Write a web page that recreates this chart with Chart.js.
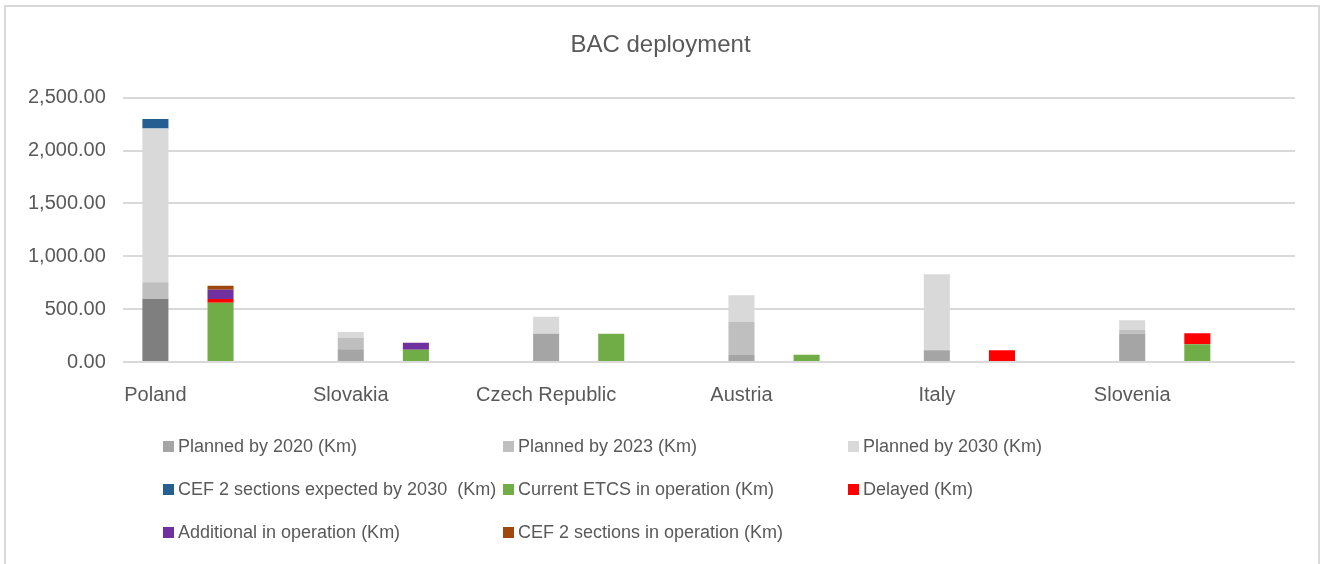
<!DOCTYPE html>
<html>
<head>
<meta charset="utf-8">
<script src="https://cdn.jsdelivr.net/npm/chart.js@4.4.1/dist/chart.umd.min.js"></script>
<style>
  html, body { margin: 0; padding: 0; background: #fff; }
  #wrap { position: relative; width: 1326px; height: 564px; overflow: hidden; }
  #frame { position: absolute; left: 4px; top: 5px; width: 1316px; height: 570px;
           border: 2px solid #d9d9d9; box-sizing: border-box; }
  #chart_box { position: absolute; left: 0; top: 0; width: 1326px; height: 432px; }
  #legend { position: absolute; left: 0; top: 0; width: 1326px; height: 564px;
            font-family: "Liberation Sans", Arial, sans-serif; font-size: 18px; color: #595959; }
  .item { position: absolute; display: flex; align-items: center; white-space: pre; height: 22px; }
  .box { width: 11px; height: 11px; margin-right: 4px; flex: none; }
</style>
</head>
<body>
<div id="wrap">
  <div id="frame"></div>
  <div id="chart_box"><canvas id="chart_bac"></canvas></div>
  <div id="legend"></div>
</div>
<script>
const countries = ['Poland', 'Slovakia', 'Czech Republic', 'Austria', 'Italy', 'Slovenia'];

// planned stack (left bar of each country)
const planned2020 = [595, 120, 268, 66, 111, 268];
const planned2023 = [160, 110, 0, 316, 0, 38];
const planned2030 = [1455, 54, 161, 250, 720, 89];
const cef2Expected = [90, 0, 0, 0, 0, 0];

// operation stack (right bar of each country)
const currentEtcs = [560, 117, 268, 69, 0, 168];
const delayed = [35, 0, 0, 0, 111, 104];
const additional = [88, 66, 0, 0, 0, 0];
const cef2InOperation = [38, 0, 0, 0, 0, 0];

const yTicks = [0, 500, 1000, 1500, 2000, 2500];

// each country takes three slots: planned bar, operation bar, empty gap
let labels = [];
countries.forEach(c => { labels.push(c, '', ''); });

function toSlots(values, offset){
  let out = [];
  values.forEach(v => {
    let slot = [null, null, null];
    slot[offset] = v > 0 ? v : null;
    out.push(...slot);
  });
  return out;
}

// Poland's 2020 segment is drawn darker in the original
let planned2020Colors = labels.map((l, i) => i == 0 ? '#7f7f7f' : '#a5a5a5');

const series = [
  {label: 'Planned by 2020 (Km)', values: planned2020, offset: 0, color: '#a5a5a5', fill: planned2020Colors},
  {label: 'Planned by 2023 (Km)', values: planned2023, offset: 0, color: '#bfbfbf'},
  {label: 'Planned by 2030 (Km)', values: planned2030, offset: 0, color: '#d9d9d9'},
  {label: 'CEF 2 sections expected by 2030  (Km)', values: cef2Expected, offset: 0, color: '#255e91'},
  {label: 'Current ETCS in operation (Km)', values: currentEtcs, offset: 1, color: '#70ad47'},
  {label: 'Delayed (Km)', values: delayed, offset: 1, color: '#ff0000'},
  {label: 'Additional in operation (Km)', values: additional, offset: 1, color: '#7030a0'},
  {label: 'CEF 2 sections in operation (Km)', values: cef2InOperation, offset: 1, color: '#9e480e'}
];

let datasets = series.map(s => ({
  label: s.label,
  data: toSlots(s.values, s.offset),
  backgroundColor: s.fill || s.color,
  borderWidth: 0,
  barPercentage: 0.4,
  categoryPercentage: 1.0
}));

const textColor = '#595959';
const fontFamily = '"Liberation Sans", Arial, sans-serif';

new Chart(document.getElementById('chart_bac'), {
  type: 'bar',
  data: { labels: labels, datasets: datasets },
  options: {
    responsive: true,
    maintainAspectRatio: false,
    animation: false,
    layout: { padding: { left: 26, right: 31, top: 31, bottom: 4 } },
    scales: {
      x: {
        stacked: true,
        grid: { display: false, drawTicks: false },
        border: { display: false },
        ticks: {
          autoSkip: false, maxRotation: 0, minRotation: 0, padding: 21,
          color: textColor, font: { family: fontFamily, size: 20 }
        }
      },
      y: {
        stacked: true,
        min: yTicks[0],
        max: yTicks[yTicks.length - 1],
        afterBuildTicks: (axis) => { axis.ticks = yTicks.map(v => ({value: v})); },
        // slightly narrower axis box so the title sits centred like the original
        afterFit: (axis) => { axis.width -= 15; },
        grid: { color: '#d9d9d9', lineWidth: 2, drawTicks: false },
        border: { display: false },
        ticks: {
          padding: 17, color: textColor, font: { family: fontFamily, size: 20 },
          callback: (v) => Number(v).toLocaleString('en-US', {minimumFractionDigits: 2, maximumFractionDigits: 2})
        }
      }
    },
    plugins: {
      legend: { display: false },
      tooltip: { enabled: false },
      title: {
        display: true,
        text: 'BAC deployment',
        color: textColor,
        font: { family: fontFamily, size: 24, weight: 'normal' },
        padding: { top: 0, bottom: 38 }
      }
    }
  }
});

// legend laid out in three fixed columns like the original
const legendEl = document.getElementById('legend');
const colX = [163, 503, 848];
const rowY = [435, 478, 521];
series.forEach((s, i) => {
  let item = document.createElement('div');
  item.className = 'item';
  item.style.left = colX[i % 3] + 'px';
  item.style.top = rowY[Math.floor(i / 3)] + 'px';
  let box = document.createElement('span');
  box.className = 'box';
  box.style.background = s.color;
  let txt = document.createElement('span');
  txt.textContent = s.label;
  item.appendChild(box);
  item.appendChild(txt);
  legendEl.appendChild(item);
});
</script>
</body>
</html>
